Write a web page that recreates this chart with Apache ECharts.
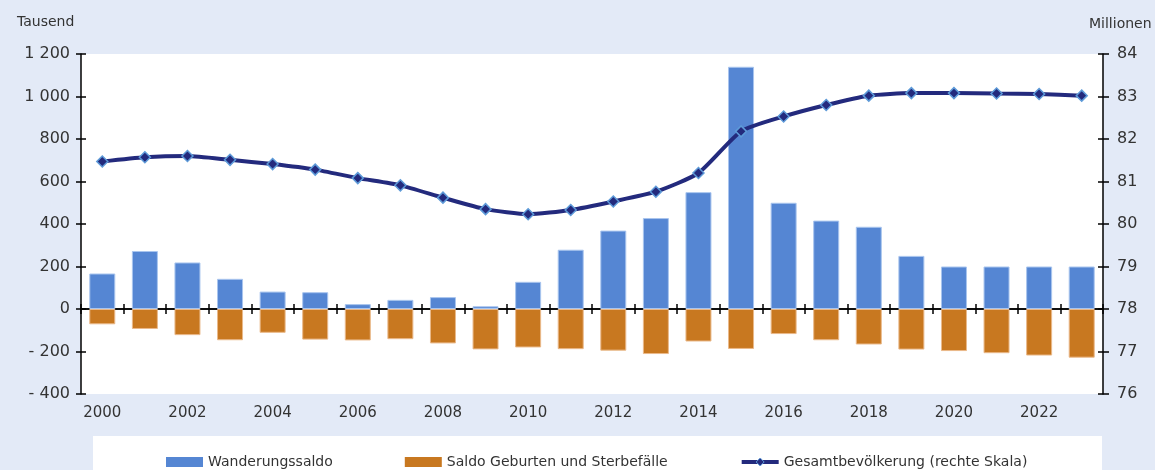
<!DOCTYPE html>
<html>
<head>
<meta charset="utf-8">
<script src="https://cdn.jsdelivr.net/npm/echarts@6/dist/echarts.min.js"></script>
<style>
  html, body { margin: 0; padding: 0; background: #e3eaf7; }
  #chart { width: 1155px; height: 470px; }
</style>
</head>
<body>
<div id="chart"></div>
<script>
// Jahre
var years = ['2000','2001','2002','2003','2004','2005','2006','2007','2008','2009','2010','2011',
             '2012','2013','2014','2015','2016','2017','2018','2019','2020','2021','2022','2023'];
// Wanderungssaldo (Tausend)
var migration = [167, 273, 219, 142, 82, 79, 23, 43, 56, 13, 128, 279,
                 369, 428, 550, 1140, 500, 416, 387, 250, 200, 200, 200, 200];
// Saldo Geburten und Sterbefälle (Tausend)
var natural = [-72, -94, -123, -147, -112, -144, -148, -142, -162, -190, -181, -189,
               -196, -212, -153, -188, -118, -147, -167, -191, -198, -208, -219, -229];
// Gesamtbevölkerung (Millionen, rechte Skala)
var population = [81.47, 81.57, 81.60, 81.51, 81.41, 81.28, 81.08, 80.91, 80.62, 80.35, 80.23, 80.33,
                  80.53, 80.76, 81.20, 82.18, 82.53, 82.80, 83.02, 83.08, 83.08, 83.07, 83.06, 83.02];

var font = 'DejaVu Sans';
var textColor = '#333';

function leftFmt(v) {
  var a = Math.abs(v);
  var s = a >= 1000 ? Math.floor(a / 1000) + ' ' + String(a % 1000).padStart(3, '0') : String(a);
  return v < 0 ? '- ' + s : s;
}

var chart = echarts.init(document.getElementById('chart'));

var axisLine = { show: true, onZero: true, lineStyle: { color: '#000', width: 1.5 } };

chart.setOption({
  backgroundColor: '#e3eaf7',
  textStyle: { fontFamily: font },
  animation: false,
  grid: {
    left: 81, right: 52, top: 54, bottom: 76,
    show: true, backgroundColor: '#fff', borderWidth: 0
  },
  graphic: [
    { type: 'rect', left: 93, top: 436, shape: { width: 1009, height: 34 }, style: { fill: '#fff' }, z: -1 },
    { type: 'text', left: 17, top: 15, style: { text: 'Tausend', font: '14px "DejaVu Sans"', fill: textColor } },
    { type: 'text', left: 1089, top: 17, style: { text: 'Millionen', font: '14px "DejaVu Sans"', fill: textColor } }
  ],
  legend: {
    left: 166, top: 455, padding: 0,
    itemWidth: 37, itemHeight: 10, itemGap: 72,
    itemStyle: { borderWidth: 0 },
    textStyle: { fontFamily: font, fontSize: 14, color: textColor },
    data: [
      { name: 'Wanderungssaldo', icon: 'rect' },
      { name: 'Saldo Geburten und Sterbefälle', icon: 'rect' },
      { name: 'Gesamtbevölkerung (rechte Skala)', lineStyle: { width: 4 }, itemStyle: { borderWidth: 1 } }
    ]
  },
  xAxis: [
    {
      type: 'category', data: years, position: 'bottom',
      axisLine: axisLine,
      axisTick: { show: true, interval: 0, length: 5, lineStyle: { color: '#000', width: 1.5 } },
      axisLabel: { show: false }
    },
    {
      type: 'category', data: years, position: 'bottom',
      axisLine: axisLine,
      axisTick: { show: true, inside: true, interval: 0, length: 5, lineStyle: { color: '#000', width: 1.5 } },
      axisLabel: { show: false }
    },
    {
      type: 'category', data: years, position: 'bottom',
      axisLine: { show: false, onZero: false },
      axisTick: { show: false },
      axisLabel: { interval: 1, fontSize: 15, color: textColor, margin: 12 }
    }
  ],
  yAxis: [
    {
      type: 'value', position: 'left', min: -400, max: 1200, interval: 200,
      axisLine: { show: true, lineStyle: { color: '#000', width: 1.5 } },
      axisTick: { show: true, length: 5, lineStyle: { color: '#000', width: 1.5 } },
      axisLabel: { formatter: leftFmt, fontSize: 16, color: textColor, margin: 11 },
      splitLine: { show: false }
    },
    {
      type: 'value', position: 'right', min: 76, max: 84, interval: 1,
      axisLine: { show: true, lineStyle: { color: '#000', width: 1.5 } },
      axisTick: { show: true, length: 6, lineStyle: { color: '#000', width: 1.5 } },
      axisLabel: { fontSize: 16, color: textColor, margin: 14 },
      splitLine: { show: false }
    },
    {
      type: 'value', position: 'left', min: -400, max: 1200, interval: 200,
      axisLine: { show: false },
      axisTick: { show: true, inside: true, length: 5, lineStyle: { color: '#000', width: 1.5 } },
      axisLabel: { show: false },
      splitLine: { show: false }
    },
    {
      type: 'value', position: 'right', min: 76, max: 84, interval: 1,
      axisLine: { show: false },
      axisTick: { show: true, inside: true, length: 5, lineStyle: { color: '#000', width: 1.5 } },
      axisLabel: { show: false },
      splitLine: { show: false }
    }
  ],
  series: [
    {
      name: 'Wanderungssaldo', type: 'bar', stack: 'saldo',
      xAxisIndex: 0, yAxisIndex: 0, barWidth: 26,
      itemStyle: { color: '#5586d3', borderColor: '#a9c5ee', borderWidth: 1 },
      data: migration
    },
    {
      name: 'Saldo Geburten und Sterbefälle', type: 'bar', stack: 'saldo',
      xAxisIndex: 0, yAxisIndex: 0, barWidth: 26,
      itemStyle: { color: '#c87820', borderColor: '#eab98a', borderWidth: 1 },
      data: natural
    },
    {
      name: 'Gesamtbevölkerung (rechte Skala)', type: 'line',
      xAxisIndex: 0, yAxisIndex: 1, smooth: 0.2,
      symbol: 'diamond', symbolSize: 11,
      lineStyle: { color: '#232a7d', width: 4 },
      itemStyle: { color: '#232a7d', borderColor: '#5d9ad8', borderWidth: 1.5 },
      z: 5,
      data: population
    }
  ]
});
</script>
</body>
</html>
